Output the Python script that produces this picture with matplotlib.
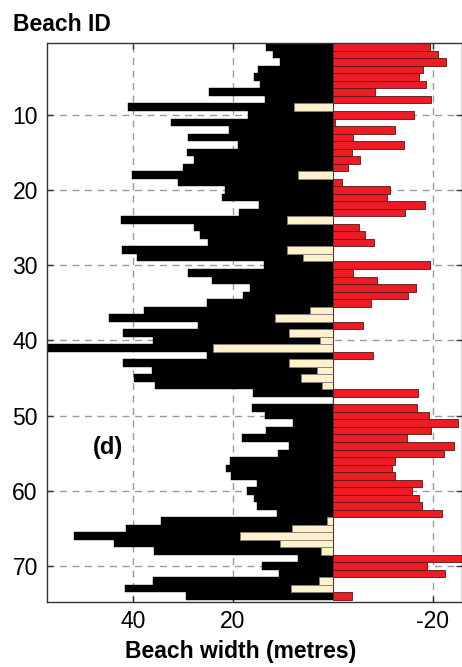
import numpy as np
import matplotlib.pyplot as plt

plt.rcParams['font.family'] = ['Liberation Sans', 'DejaVu Sans']

# Beach IDs 1..74 (row 48 has no data)
beach_id = np.arange(1, 75)

# present beach width (black bars, metres)
width_now = [13.4, 11.9, 10.5, 14.9, 15.7, 14.5, 24.7, 13.5, 40.9, 16.9,
             32.4, 20.7, 28.9, 18.9, 29.1, 27.7, 30.0, 40.1, 31.0, 21.5,
             22.2, 14.7, 18.7, 42.3, 27.7, 26.5, 24.9, 42.2, 39.1, 13.7,
             28.9, 24.2, 16.5, 17.9, 25.2, 37.7, 44.7, 26.9, 41.9, 35.9,
             60.0, 25.1, 41.9, 36.2, 39.7, 35.5, 15.9, 0.0, 16.1, 13.5,
             7.9, 13.3, 18.1, 8.7, 10.9, 20.5, 21.3, 20.3, 15.2, 17.2,
             15.7, 15.2, 11.2, 34.4, 41.4, 51.7, 43.7, 35.7, 6.9, 14.2,
             10.7, 35.9, 41.5, 29.3]

# gain in width (beige bars)
gain = [0, 0, 0, 0, 0, 0, 0, 0, 7.7, 0,
        0, 0, 0, 0, 0, 0, 0, 7.0, 0, 0,
        0, 0, 0, 9.2, 0, 0, 0, 9.1, 6.0, 0,
        0, 0, 0, 0, 0, 4.5, 11.5, 0, 8.7, 2.5,
        24.0, 0, 8.7, 3.1, 6.4, 2.2, 0, 0, 0, 0,
        0, 0, 0, 0, 0, 0, 0, 0, 0, 0,
        0, 0, 0, 1.2, 8.2, 18.5, 10.5, 2.4, 0, 0,
        0, 2.7, 8.4, 0]

# loss in width (red bars, negative)
loss = [-19.5, -21.1, -22.6, -18.1, -17.3, -18.7, -8.5, -19.6, 0, -16.3,
        -0.5, -12.5, -4.0, -14.3, -3.8, -5.5, -3.1, 0, -1.9, -11.5,
        -10.9, -18.5, -14.5, 0, -5.3, -6.5, -8.3, 0, 0, -19.5,
        -4.0, -8.8, -16.7, -15.1, -7.6, 0, 0, -6.0, 0, 0,
        0, -8.0, 0, 0, 0, 0, -17.1, 0, -16.9, -19.3,
        -25.1, -19.7, -14.9, -24.3, -22.3, -12.5, -11.8, -12.5, -17.8, -15.8,
        -17.3, -17.8, -21.9, 0, 0, 0, 0, 0, -26.5, -18.8,
        -22.5, 0, 0, -3.8]

xtick_vals = [40, 20, -20]
xtick_labels = ['40', '20', '-20']
ytick_vals = [10, 20, 30, 40, 50, 60, 70]

fig = plt.figure(figsize=(4.62, 6.67), dpi=100)
ax = fig.add_axes([0.1028, 0.0982, 0.8972, 0.8369])

ax.barh(beach_id, width_now, height=1.0, color='black', edgecolor='black', linewidth=0.3)
ax.barh(beach_id, gain, height=1.0, color='#fff1c9', edgecolor='#808080', linewidth=0.6)
ax.barh(beach_id, loss, height=1.0, color='#ed1c24', edgecolor='#5a1414', linewidth=0.6)

ax.set_xlim(57.1, -25.86)
ax.set_ylim(74.7, 0.5)

ax.set_xticks(xtick_vals)
ax.set_xticklabels(xtick_labels)
ax.set_yticks(ytick_vals)

ax.grid(True, color='#9a9a9a', linestyle=(0, (5, 4)), linewidth=1.0)
ax.set_axisbelow(True)

ax.tick_params(direction='in', length=4, width=1, color='#333333',
               labelsize=16.5, top=True, right=True)
ax.tick_params(axis='y', pad=7)
ax.tick_params(axis='x', pad=6)
for s in ax.spines.values():
    s.set_color('#333333')
    s.set_linewidth(1.0)

ax.text(44.9, 54.2, '(d)', ha='center', va='center', fontsize=17, fontweight='bold')

fig.text(13 / 462, 1 - 30.7 / 667, 'Beach ID', fontsize=16.5, fontweight='bold', va='baseline')
fig.text(241 / 462, 1 - 658 / 667, 'Beach width (metres)', fontsize=16.5,
         fontweight='bold', ha='center', va='baseline')

fig.savefig('out.png', dpi=100)
